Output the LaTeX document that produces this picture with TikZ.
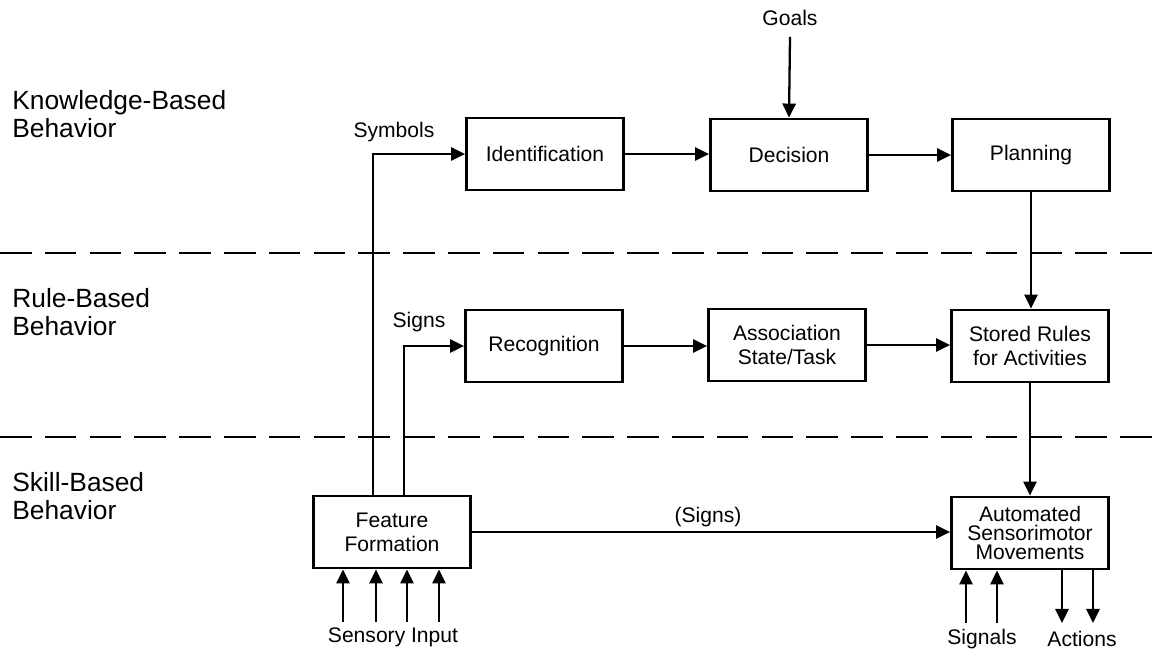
\documentclass[tikz,border=0pt]{standalone}
\usepackage{fontspec}
\setmainfont{Liberation Sans}
\usetikzlibrary{arrows.meta}

\tikzset{
  box/.style={draw, line width=1.6pt, minimum width=3.14cm, minimum height=1.44cm,
    inner sep=0pt, align=center, font=\fontsize{12}{13.5}\selectfont},
  arr/.style={line width=1.3pt, -{Triangle[length=8pt,width=7.5pt]}},
  lbl/.style={font=\fontsize{12}{13.5}\selectfont, inner sep=1pt},
  level/.style={anchor=west, align=left, inner sep=0pt, font=\fontsize{15}{16}\selectfont},
  sep/.style={line width=1.4pt, dash pattern=on 18pt off 7.5pt}
}

\begin{document}
\begin{tikzpicture}[x=0.02cm,y=-0.02cm]
\useasboundingbox (0,0) rectangle (1153,650);

\node[level] (kb) at (12,114) {Knowledge-Based\\Behavior};
\node[level] (rb) at (12,312) {Rule-Based\\Behavior};
\node[level] (sb) at (12,496) {Skill-Based\\Behavior};

\draw[sep] (0,253) -- (1153,253);
\draw[sep] (0,437) -- (1153,437);

\node[box] (ident) at (545,154) {Identification};
\node[box] (decis) at (789,155) {Decision};
\node[box] (plan) at (1031,155) {Planning};
\node[box] (recog) at (544,346) {Recognition};
\node[box] (assoc) at (787,345) {Association\\State/Task};
\node[box] (stored) at (1030,346) {Stored Rules\\for Activities};
\node[box] (feat) at (392,532) {Feature\\Formation};
\node[box, font=\fontsize{12}{11}\selectfont] (auto) at (1030,533) {Automated\\Sensorimotor\\Movements};

\node[lbl] (goals) at (790,18) {Goals};
\node[lbl] (symb) at (394,132) {Symbols};
\node[lbl] (signs) at (419,322) {Signs};
\node[lbl] (signsb) at (708,517) {(Signs)};
\node[lbl] (sens) at (393,637) {Sensory Input};
\node[lbl] (sigs) at (982,639) {Signals};
\node[lbl] (acts) at (1082,639) {Actions};

\draw[arr] (goals.south) ++(0,9) -- (decis.north);
\draw[arr] (ident) -- (ident -| decis.west);
\draw[arr] (decis) -- (decis -| plan.west);
\draw[arr] (recog) -- (recog -| assoc.west);
\draw[arr] (assoc) -- (assoc -| stored.west);
\draw[arr] (plan.south) -- (plan.south |- stored.north);
\draw[arr] (stored.south) -- (stored.south |- auto.north);
\draw[arr] (feat.north west) ++(61,0) |- (ident.west);
\draw[arr] (feat.north west) ++(92,0) |- (recog.west);
\draw[arr] (feat.east) -- (feat.east -| auto.west);

\foreach \i in {343,376,407,439} {
  \coordinate (s\i) at (\i,622);
  \draw[arr] (s\i) -- (s\i |- feat.south);
}
\foreach \i in {966,997} {
  \coordinate (g\i) at (\i,623);
  \draw[arr] (g\i) -- (g\i |- auto.south);
}
\foreach \i in {1062,1093} {
  \coordinate (a\i) at (\i,623);
  \draw[arr] (a\i |- auto.south) -- (a\i);
}

\end{tikzpicture}
\end{document}
